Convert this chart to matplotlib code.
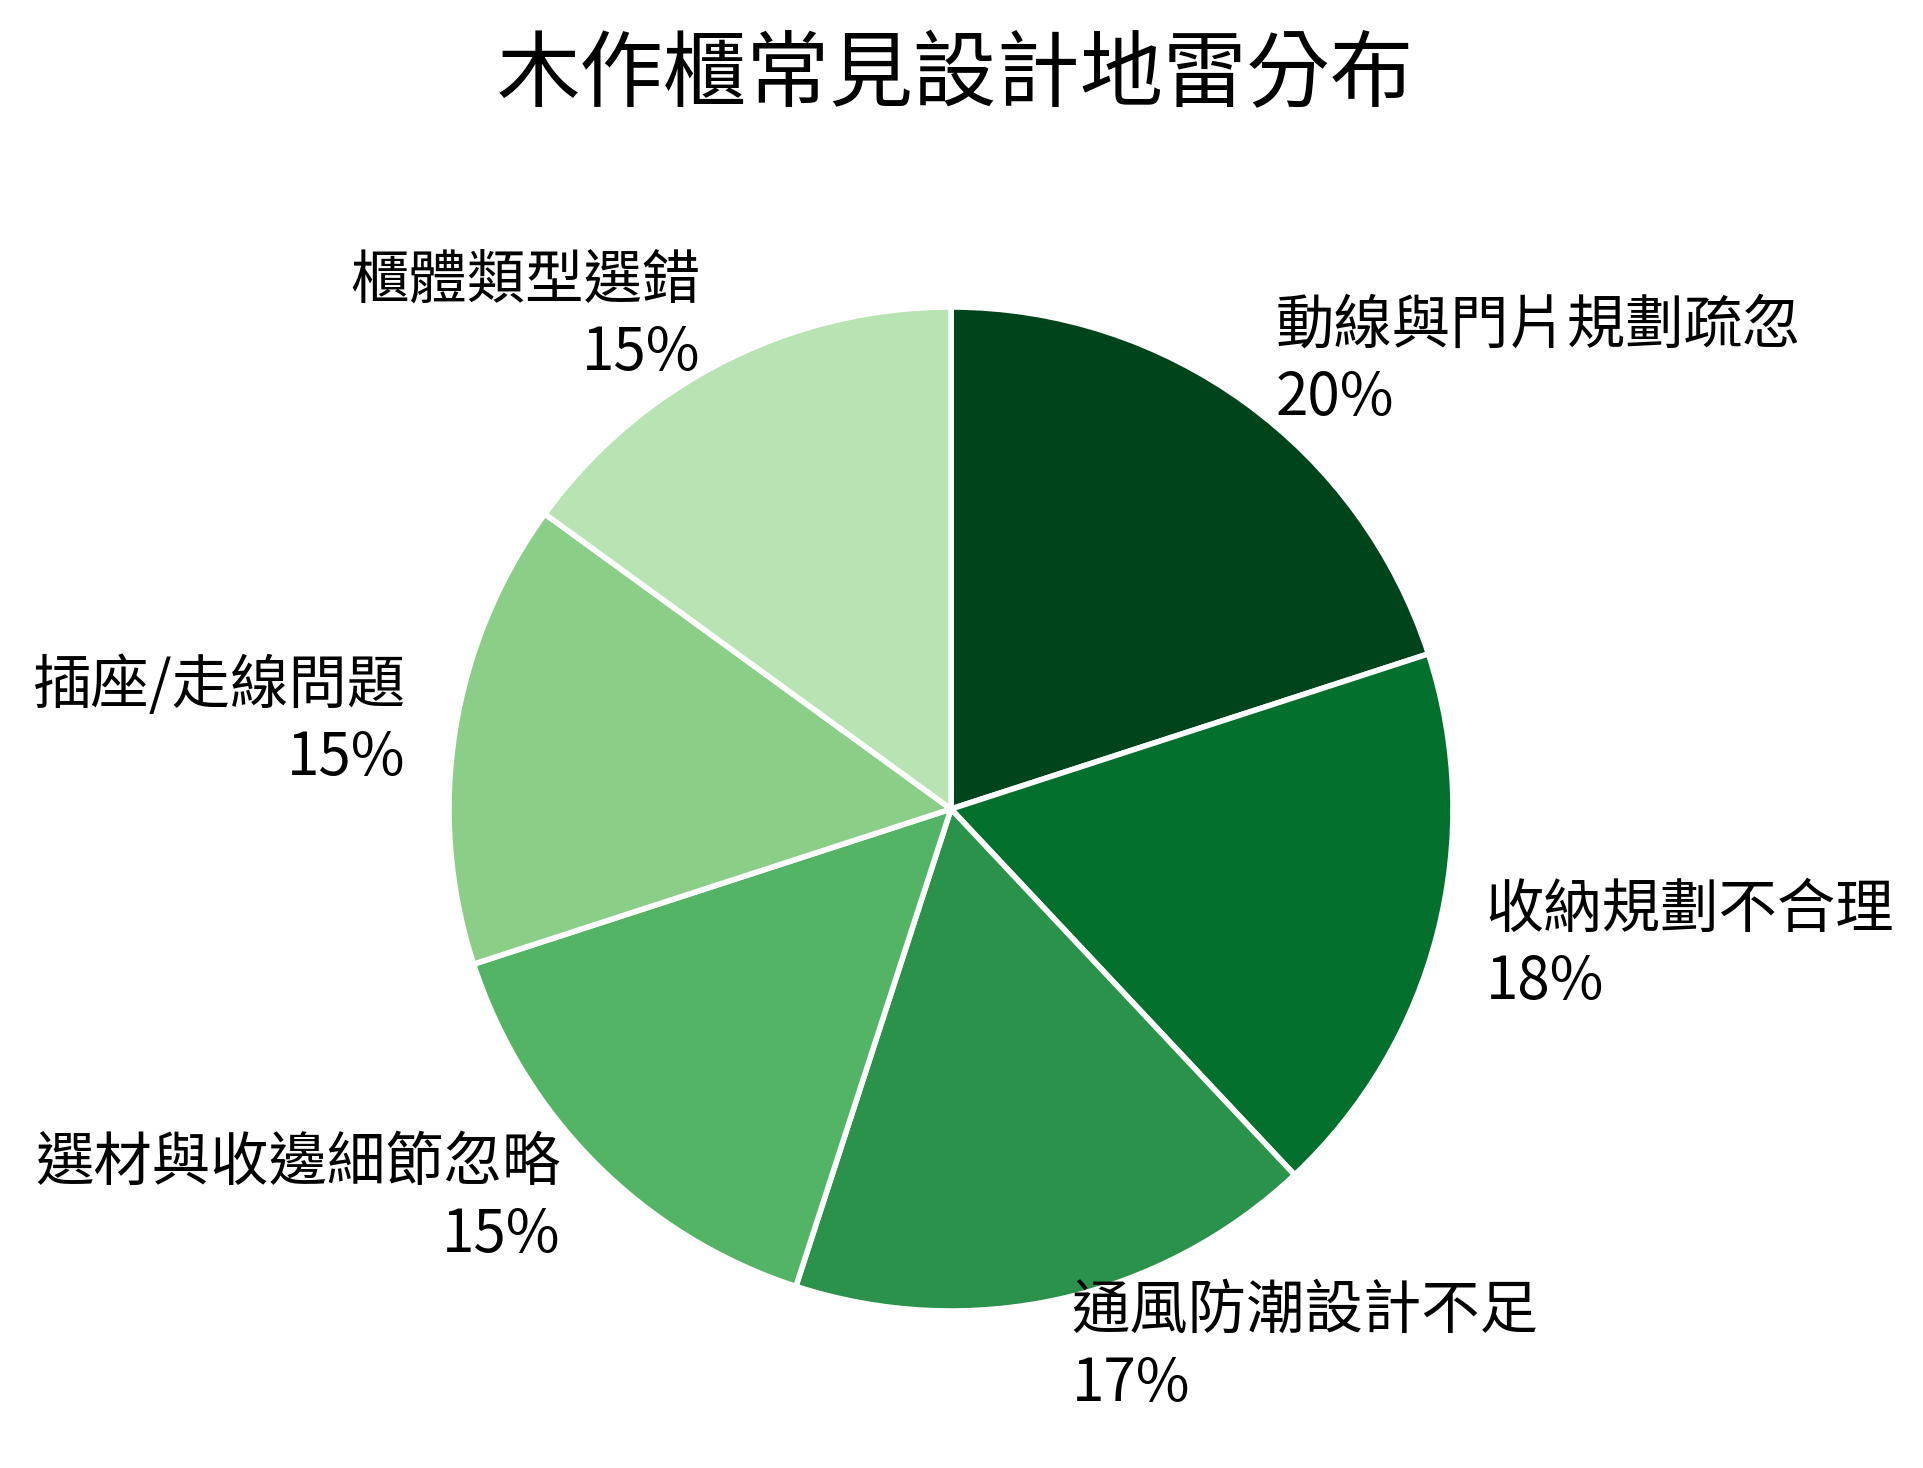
import numpy as np
import matplotlib
matplotlib.use("Agg")
import matplotlib.pyplot as plt

plt.rcParams['font.family'] = ['Noto Sans CJK TC', 'DejaVu Sans']

# data
categories = ["動線與門片規劃疏忽", "收納規劃不合理", "通風防潮設計不足",
              "選材與收邊細節忽略", "插座/走線問題", "櫃體類型選錯"]
shares = [20, 18, 17, 15, 15, 15]
title = "木作櫃常見設計地雷分布"

colors = plt.cm.Greens(np.linspace(1.0, 0.3, len(shares)))  # dark -> light
labels = [f"{c}\n{v}%" for c, v in zip(categories, shares)]

W, H = 1924, 1468
cx, cy = 951, 659
fig = plt.figure(figsize=(W / 100, H / 100), dpi=100)
ax = fig.add_axes([0, 0, 1, 1])

wedges, texts = ax.pie(shares, labels=labels, colors=colors, startangle=90,
                       counterclock=False, center=(cx, cy), radius=502,
                       labeldistance=1.1,
                       wedgeprops=dict(edgecolor='white', linewidth=4),
                       textprops=dict(fontsize=42, color='black', linespacing=1.25))
# labels left of the centre should hang to the left
for t in texts:
    if t.get_position()[0] < cx:
        t.set_ha('right')
        t.set_multialignment('right')
    else:
        t.set_ha('left')
        t.set_multialignment('left')

ax.set_xlim(0, W)
ax.set_ylim(0, H)
ax.set_aspect('equal')
ax.axis('off')

fig.text(955 / W, 1 - 76 / H, title, ha='center', va='center', fontsize=60)

fig.savefig("out.png", dpi=100)
